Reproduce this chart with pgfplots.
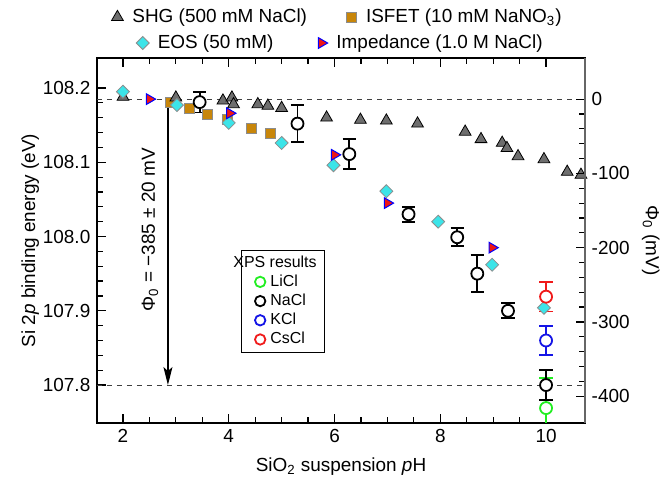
\documentclass[border=0pt]{standalone}
\usepackage{pgfplots}
\pgfplotsset{compat=1.18}
\usepackage{fontspec}
\setmainfont{Liberation Sans}
\usetikzlibrary{arrows.meta}

\definecolor{shg}{HTML}{6E6E6E}
\definecolor{isfet}{HTML}{C8860A}
\definecolor{eos}{HTML}{3CE4E8}
\definecolor{imp}{HTML}{EE1515}
\definecolor{li}{HTML}{22EE22}
\definecolor{kcl}{HTML}{1414E6}
\definecolor{cs}{HTML}{F01A1A}

\pgfplotsset{
  common/.style={
    scale only axis, width=244bp, height=182.5bp,
    at={(0,0)}, anchor=south west,
    xmin=1.509, xmax=10.736,
    tick align=inside,
    major tick length=4.5bp, minor tick length=3bp,
    every tick/.style={line width=0.6bp},
    axis line style={line width=0.6bp},
    /pgf/number format/assume math mode=true,
  },
  topleg/.style={
    legend style={draw=none, fill=none, legend columns=2,
      /tikz/every even column/.append style={column sep=#1},
      nodes={inner xsep=3bp, inner ysep=2bp}},
    legend image code/.code={\path[draw=none, fill=none] (-3bp,0) -- (4.5bp,0);
      \draw[##1] plot coordinates {(0bp,0bp)};},
  },
  shg/.style={only marks, mark=triangle*, mark size=3.4bp,
    mark options={fill=shg, draw=black, line width=0.4bp}},
  isfet/.style={only marks, mark=square*, mark size=2.5bp,
    mark options={fill=isfet, draw=black!45, line width=0.4bp}},
  eos/.style={only marks, mark=square*, mark size=2.3bp,
    mark options={rotate=45, fill=eos, draw=black!45, line width=0.4bp}},
  imp/.style={only marks, mark=triangle*, mark size=3.1bp,
    mark options={rotate=-90, fill=imp, draw=blue, line width=0.5bp}},
  xps/.style={only marks, mark=*, mark size=3bp,
    mark options={fill=white, draw=#1, line width=0.9bp},
    error bars/.cd, y dir=both, y explicit,
    error bar style={draw=#1, line width=0.9bp},
    error mark=-,
    error mark options={rotate=90, draw=#1, line width=0.9bp, mark size=3.3bp}},
  xpsleg/.style={only marks, mark=o, mark size=2.6bp,
    mark options={draw=#1, line width=0.9bp}},
}

\pgfplotstableread{
ph    e
2.00  108.188
3.00  108.187
3.89  108.183
4.06  108.187
4.09  108.178
4.55  108.178
4.74  108.176
5.00  108.173
5.85  108.160
6.49  108.157
6.98  108.156
7.57  108.152
8.47  108.141
8.77  108.131
9.17  108.126
9.26  108.119
9.47  108.108
9.96  108.104
10.40 108.087
10.66 108.083
}\shgdata

\pgfplotstableread{
ph    e
2.89  108.180
3.25  108.172
3.60  108.165
3.98  108.158
4.42  108.146
4.79  108.139
}\isfetdata

\pgfplotstableread{
ph    e
2.00  108.195
3.02  108.177
4.00  108.153
5.00  108.126
5.98  108.096
6.98  108.061
7.96  108.020
8.98  107.962
9.96  107.904
}\eosdata

\pgfplotstableread{
ph    e
2.50  108.185
4.02  108.166
6.00  108.110
7.00  108.045
8.98  107.985
}\impdata

\pgfplotstableread{
ph    e        err
3.45  108.181  0.014
5.30  108.152  0.025
6.28  108.111  0.020
7.40  108.030  0.010
8.32  107.999  0.012
8.70  107.950  0.025
9.28  107.900  0.010
10.00 107.800  0.020
}\nacldata

\begin{document}
\fontsize{9.5}{11}\selectfont
\begin{tikzpicture}
\path[use as bounding box] (-48.5bp,-30bp) rectangle (287.5bp,211.5bp);

% main axis, binding energy
\begin{axis}[common,
  ymin=107.7489, ymax=108.2404,
  xtick={2,4,6,8,10}, minor x tick num=3,
  ytick={107.8,107.9,108.0,108.1,108.2}, minor y tick num=4,
  ytick pos=left,
  yticklabel style={/pgf/number format/.cd, fixed, fixed zerofill, precision=1, 1000 sep={}},
  xlabel={SiO\textsubscript{2} suspension \textit{p}H},
  ylabel={Si 2\textit{p} binding energy (eV)},
  xlabel style={at={(axis description cs:0.5,-0.12)}, anchor=center},
  ylabel style={at={(axis description cs:-0.137,0.5)}, anchor=center},
]
  \draw[black!75, line width=0.5bp, dash pattern=on 2.5bp off 2.5bp]
    (axis cs:1.509,108.185) -- (axis cs:10.736,108.185);
  \draw[black!75, line width=0.5bp, dash pattern=on 2.5bp off 2.5bp]
    (axis cs:1.509,107.8) -- (axis cs:10.736,107.8);
  \draw[line width=0.6bp, -{Stealth[length=9bp, width=4.5bp, inset=2bp]}]
    (axis cs:2.85,108.185) -- (axis cs:2.85,107.8);
  \node[rotate=90] at (axis cs:2.51,108.009) {Φ\textsubscript{0} = −385 ± 20 mV};

  \addplot[isfet] table[x=ph, y=e] {\isfetdata};
  \addplot[shg] table[x=ph, y=e] {\shgdata};
  \addplot[eos] table[x=ph, y=e] {\eosdata};
  \addplot[imp] table[x=ph, y=e] {\impdata};
  \addplot[xps=li] coordinates {(10,107.769) +- (0,0.04)};
  \addplot[xps=black] table[x=ph, y=e, y error=err] {\nacldata};
  \addplot[xps=kcl] coordinates {(10,107.860) +- (0,0.02)};
  \addplot[xps=cs] coordinates {(10,107.919) +- (0,0.02)};
\end{axis}

% right axis, potential
\begin{axis}[common,
  ymin=-436.1, ymax=55.4,
  axis x line=none, axis y line*=right,
  tick align=inside,
  y axis line style={black!60, line width=0.6bp},
  ytick={-400,-300,-200,-100,0}, minor y tick num=4,
  ylabel={Φ\textsubscript{0} (mV)},
  every axis y label/.style={at={(axis description cs:1.135,0.5)}, anchor=center, rotate=-90},
]
  \addplot[draw=none, forget plot] coordinates {(5,-100)};
\end{axis}

% XPS legend box
\begin{axis}[common, hide axis, ymin=0, ymax=1,
  legend style={at={(0.381,0.334)}, anchor=center, draw=black, line width=0.5bp,
    font=\fontsize{8}{9.5}\selectfont,
    row sep=0pt, inner sep=1.5bp, nodes={inner xsep=2.5bp, inner ysep=1.2bp}},
  legend cell align=left,
  legend image code/.code={\path[draw=none, fill=none] (-8bp,0) -- (2.5bp,0);
    \draw[#1] plot coordinates {(0bp,0bp)};},
]
  \addlegendimage{empty legend}
  \addlegendentry{\hspace{-18.5bp}XPS results\rule[-4.2bp]{0pt}{0pt}}
  \addlegendimage{xpsleg=li}
  \addlegendentry{LiCl}
  \addlegendimage{xpsleg=black}
  \addlegendentry{NaCl}
  \addlegendimage{xpsleg=kcl}
  \addlegendentry{KCl}
  \addlegendimage{xpsleg=cs}
  \addlegendentry{CsCl}
\end{axis}

% top legend, first row
\begin{axis}[common, hide axis, ymin=0, ymax=1, topleg=16bp,
  legend style={at={(0.497,1.112)}, anchor=center}]
  \addlegendimage{shg}
  \addlegendentry{SHG (500 mM NaCl)}
  \addlegendimage{isfet}
  \addlegendentry{ISFET (10 mM NaNO\textsubscript{3})}
\end{axis}

% top legend, second row
\begin{axis}[common, hide axis, ymin=0, ymax=1, topleg=18bp,
  legend style={at={(0.503,1.041)}, anchor=center}]
  \addlegendimage{eos}
  \addlegendentry{EOS (50 mM)}
  \addlegendimage{imp}
  \addlegendentry{Impedance (1.0 M NaCl)}
\end{axis}
\end{tikzpicture}
\end{document}
